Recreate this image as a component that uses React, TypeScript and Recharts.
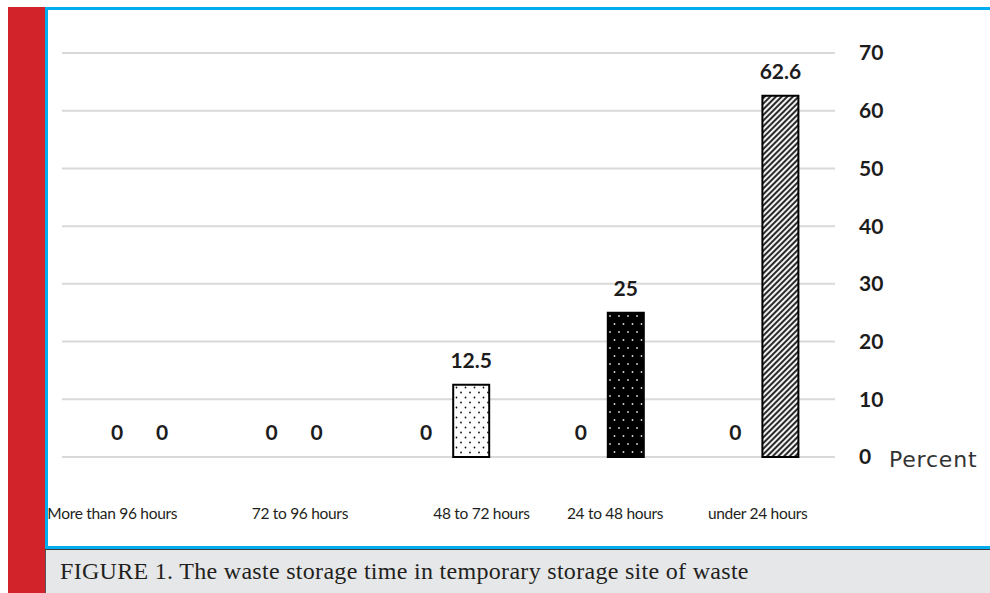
import { Bar, BarChart, CartesianGrid, Cell, LabelList, XAxis, YAxis } from 'recharts';

const categories = ['More than 96 hours', '72 to 96 hours', '48 to 72 hours', '24 to 48 hours', 'under 24 hours'];
const seriesA = [0, 0, 0, 0, 0];
const seriesB = [0, 0, 12.5, 25, 62.6];
const yTicks = [0, 10, 20, 30, 40, 50, 60, 70];

// the x labels in the source sit a bit off the category centres
const tickShift = [-27, 6, 33, 12, 0];
const barFills = ['none', 'none', 'url(#dotsLight)', 'url(#dotsDark)', 'url(#hatch)'];

const data = categories.map((name, i) => ({ name, a: seriesA[i], b: seriesB[i] }));

const labelFont = { fill: '#1c1c1c', fontSize: 21, fontWeight: 700, fontFamily: 'Lato, sans-serif' };

const XTick = (props: any) => {
  const { x, y, payload, index } = props;
  return (
    <text
      x={x + (tickShift[index] ?? 0)}
      y={y + 62}
      textAnchor="middle"
      fill="#231f20"
      fontSize={15.5}
      letterSpacing={-0.3}
      fontFamily="Lato, sans-serif"
    >
      {payload.value}
    </text>
  );
};

const Patterns = () => (
  <svg width={0} height={0} style={{ position: 'absolute' }}>
    <defs>
      <pattern id="dotsLight" patternUnits="userSpaceOnUse" width={9} height={10}>
        <rect width={9} height={10} fill="#fff" />
        <circle cx={2} cy={2.5} r={0.9} fill="#111" />
        <circle cx={6.5} cy={7.5} r={0.9} fill="#111" />
      </pattern>
      <pattern id="dotsDark" patternUnits="userSpaceOnUse" width={9} height={16}>
        <rect width={9} height={16} fill="#000" />
        <circle cx={2.5} cy={4} r={0.9} fill="#ddd" />
        <circle cx={7} cy={12} r={0.9} fill="#ddd" />
      </pattern>
      <pattern id="hatch" patternUnits="userSpaceOnUse" width={4} height={4} patternTransform="rotate(45)">
        <rect width={4} height={4} fill="#f2f2f2" />
        <rect width={2} height={4} fill="#2a2a2a" />
      </pattern>
    </defs>
  </svg>
);

export default function App() {
  return (
    <div
      style={{
        position: 'absolute',
        left: 0,
        top: 0,
        width: 990,
        height: 593,
        background: '#fff',
        overflow: 'hidden',
      }}
    >
      <Patterns />
      <div style={{ position: 'absolute', left: 8, top: 7, width: 37, height: 586, background: '#d2232a' }} />
      <div style={{ position: 'absolute', left: 45, top: 7, width: 945, height: 2.5, background: '#00aeef' }} />
      <div style={{ position: 'absolute', left: 45, top: 7, width: 2.5, height: 541, background: '#00aeef' }} />
      <div style={{ position: 'absolute', left: 45, top: 546, width: 945, height: 2.5, background: '#00aeef' }} />
      <div style={{ position: 'absolute', left: 45, top: 548.5, width: 945, height: 1.5, background: '#3c3c3c' }} />
      <div
        style={{
          position: 'absolute',
          left: 45,
          top: 550,
          width: 945,
          height: 43,
          background: '#e6e7e8',
          borderLeft: '1px solid #555',
          boxSizing: 'border-box',
        }}
      />
      <div
        style={{
          position: 'absolute',
          left: 60,
          top: 556,
          fontFamily: '"Liberation Serif", serif',
          fontSize: 24,
          letterSpacing: 0.3,
          color: '#231f20',
          whiteSpace: 'nowrap',
          lineHeight: '30px',
        }}
      >
        FIGURE 1. The waste storage time in temporary storage site of waste
      </div>

      <div style={{ position: 'absolute', left: 0, top: 0 }}>
        <BarChart
          width={990}
          height={593}
          data={data}
          margin={{ top: 53, right: 95, bottom: 106, left: 62 }}
          barSize={36}
          barGap={9}
        >
          <CartesianGrid vertical={false} stroke="#d9d9d9" strokeWidth={2} />
          <XAxis
            dataKey="name"
            axisLine={false}
            tickLine={false}
            tickSize={0}
            tickMargin={0}
            height={30}
            interval={0}
            tick={<XTick />}
          />
          <YAxis
            orientation="right"
            domain={[0, 70]}
            ticks={yTicks}
            width={60}
            axisLine={false}
            tickLine={false}
            tickSize={0}
            tickMargin={24}
            tick={labelFont}
          />
          <Bar dataKey="a" fill="none" stroke="none" minPointSize={0.01} isAnimationActive={false}>
            <LabelList dataKey="a" position="top" offset={17} style={labelFont} />
          </Bar>
          <Bar dataKey="b" minPointSize={0.01} isAnimationActive={false}>
            {seriesB.map((v, i) => (
              <Cell key={i} fill={barFills[i]} stroke={v === 0 ? 'none' : '#000'} strokeWidth={2} />
            ))}
            <LabelList dataKey="b" position="top" offset={17} style={labelFont} />
          </Bar>
        </BarChart>
      </div>

      <div
        style={{
          position: 'absolute',
          left: 889,
          top: 446,
          fontFamily: '"DejaVu Sans", sans-serif',
          fontSize: 22,
          color: '#333',
          letterSpacing: 0.8,
          lineHeight: '28px',
        }}
      >
        Percent
      </div>
    </div>
  );
}
